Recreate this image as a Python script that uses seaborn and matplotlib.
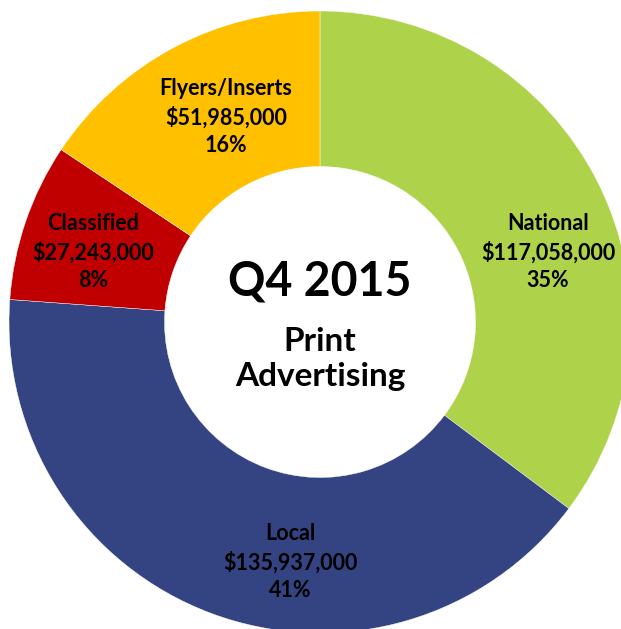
import matplotlib
matplotlib.use("Agg")
import matplotlib.pyplot as plt
import seaborn as sns

categories = ["National", "Local", "Classified", "Flyers/Inserts"]
values = [117058000, 135937000, 27243000, 51985000]
percents = [35, 41, 8, 16]
colors = ["#AED34A", "#344482", "#C00000", "#FFC000"]
center_title = "Q4 2015"
center_sub = "Print\nAdvertising"

# label layout (data coords, radius units)
label_pos = [(0.733, 0.225), (-0.096, -0.772), (-0.730, 0.225), (-0.302, 0.659)]

sns.set_theme(style="white")
plt.rcParams['font.family'] = ['Lato', 'DejaVu Sans']
plt.rcParams['text.color'] = 'black'

fig = plt.figure(figsize=(6.21, 6.29), dpi=100)
ax = fig.add_axes([0, 0, 1, 1])
ax.pie(values, colors=colors, startangle=90, counterclock=False,
       wedgeprops=dict(width=0.5, edgecolor="white", linewidth=0.3))
ax.set_xlim(-320/311, 301/311)
ax.set_ylim((322-629)/311, 322/311)
ax.set_aspect("equal")
ax.axis("off")

for cat, v, p, (x, y) in zip(categories, values, percents, label_pos):
    ax.text(x, y, f"{cat}\n${v:,.0f}\n{p}%", ha="center", va="center",
            fontsize=15.5, fontweight="bold", color="black", linespacing=1.38)

ax.text(0, (322-282)/311, center_title, ha="center", va="center",
        fontsize=33.5, fontweight="bold", color="black")
ax.text(0, (322-359)/311, center_sub, ha="center", va="center",
        fontsize=24, fontweight="bold", color="black", linespacing=1.22)

fig.savefig("out.png", dpi=100)
